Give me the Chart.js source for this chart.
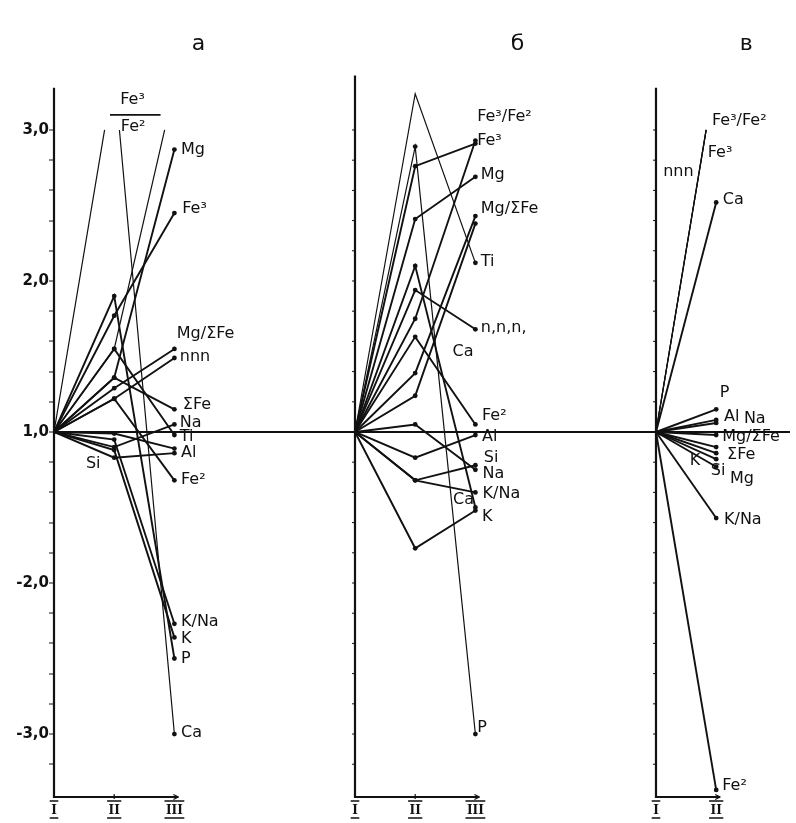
<!DOCTYPE html>
<html><head><meta charset="utf-8">
<script src="https://cdn.jsdelivr.net/npm/chart.js@4.4.1/dist/chart.umd.min.js"></script>
<style>html,body{margin:0;padding:0;background:#fff;}canvas{display:block;}</style>
</head><body>
<canvas id="c" width="796" height="823"></canvas>
<script>
// ---------------- data ----------------
const panelTitles = ['а', 'б', 'в'];
const stageLabels = ['I', 'II', 'III'];
const yTickValues = [3.0, 2.0, 1.0, -2.0, -3.0];
const yTickLabels = ['3,0', '2,0', '1,0', '-2,0', '-3,0'];

// panel а : stage I = 1.0 for every series
const seriesA = ['Ca', 'Fe³/Fe²', 'Mg', 'Fe³', 'Mg/ΣFe', 'nnn', 'ΣFe', 'Ti', 'P', 'Fe²', 'Al', 'Si', 'Na', 'K/Na', 'K'];
const a_II    = [3.38, 1.55, 1.36, 1.77, 1.29, 1.22, 1.36, 1.55, 1.90, 1.22, -1.01, -1.17, -1.10, -1.05, -1.12];
const a_III   = [-3.0, 3.28, 2.87, 2.45, 1.55, 1.49, 1.15, -1.02, -2.50, -1.32, -1.11, -1.14, 1.05, -2.27, -2.36];

// panel б
const seriesB = ['Ti', 'P', 'Fe³', 'Fe³/Fe²', 'Mg', 'Ca', 'n,n,n,', 'Fe²', 'Mg/ΣFe', 'ΣFe', 'Na', 'Al', 'Si', 'K/Na', 'K'];
const b_II    = [3.24, 2.89, 2.76, 1.75, 2.41, 2.10, 1.94, 1.63, 1.39, 1.24, 1.05, -1.17, -1.32, -1.32, -1.77];
const b_III   = [2.12, -3.0, 2.91, 2.93, 2.69, -1.50, 1.68, 1.05, 2.43, 2.38, -1.25, -1.02, -1.22, -1.40, -1.52];

// panel в (stages I and II only)
const seriesC = ['Fe³/Fe²', 'Fe³', 'nnn', 'Ca', 'P', 'Al', 'Na', 'Mg/ΣFe', 'ΣFe', 'K', 'Si', 'Mg', 'K/Na', 'Fe²'];
const c_II    = [3.40, 3.40, 3.40, 2.52, 1.15, 1.08, 1.06, -1.02, -1.10, -1.14, -1.18, -1.23, -1.57, -3.37];

// ---------------- layout / styling ----------------
const U = v => (v >= 1 ? v - 1 : v + 1);           // value -> axis position (1.0 in the middle)
const FONT = '"DejaVu Sans", sans-serif';
const INK = '#111';
const DOT_LIMIT = 3.2;                              // values above this are drawn without a dot

const PANELS = [
  { names: seriesA, vals: [a_II, a_III], xs: [1, 2, 3], cap: 3.0, axisTop: 3.28, thin: ['Ca', 'Fe³/Fe²'] },
  { names: seriesB, vals: [b_II, b_III], xs: [6, 7, 8], cap: 3.36, axisTop: 3.36, thin: ['Ti', 'P'] },
  { names: seriesC, vals: [c_II], xs: [11, 12], cap: 3.0, axisTop: 3.28, thin: ['Fe³/Fe²', 'Fe³', 'nnn'] }
];

// text placements (data units: stage position, value)
const textMarks = [
  // а
  ['Mg', 3.11, 2.87], ['Fe³', 3.13, 2.48], ['Mg/ΣFe', 3.04, 1.65], ['nnn', 3.09, 1.50], ['ΣFe', 3.14, 1.18],
  ['Na', 3.09, 1.06], ['Ti', 3.09, -1.03], ['Al', 3.11, -1.14], ['Fe²', 3.11, -1.32], ['K/Na', 3.11, -2.26],
  ['K', 3.11, -2.37], ['P', 3.11, -2.50], ['Ca', 3.11, -2.99], ['Si', 1.53, -1.21],
  ['Fe³', 2.10, 3.20], ['Fe²', 2.11, 3.02],
  // б
  ['Fe³/Fe²', 8.03, 3.09], ['Fe³', 8.03, 2.93], ['Mg', 8.09, 2.70], ['Mg/ΣFe', 8.09, 2.48], ['Ti', 8.09, 2.13],
  ['n,n,n,', 8.09, 1.69], ['Ca', 7.62, 1.53], ['Fe²', 8.11, 1.11], ['Al', 8.11, -1.03], ['Si', 8.14, -1.17],
  ['Na', 8.12, -1.28], ['Ca', 7.63, -1.45], ['K/Na', 8.12, -1.41], ['K', 8.11, -1.56], ['P', 8.03, -2.96],
  // в
  ['Fe³/Fe²', 11.93, 3.06], ['Fe³', 11.86, 2.85], ['nnn', 11.12, 2.72], ['Ca', 12.11, 2.54], ['P', 12.06, 1.26],
  ['Al', 12.13, 1.10], ['Na', 12.46, 1.09], ['Mg/ΣFe', 12.10, -1.03], ['ΣFe', 12.18, -1.15], ['K', 11.56, -1.19],
  ['Si', 11.91, -1.26], ['Mg', 12.23, -1.31], ['K/Na', 12.13, -1.58], ['Fe²', 12.10, -3.34]
];

// ---------------- build datasets ----------------
function clipPolyline(pts, cap) {
  const out = [];
  let lastEnd = null;
  for (let i = 0; i < pts.length - 1; i++) {
    const a = pts[i], b = pts[i + 1];
    if (a.y > cap && b.y > cap) continue;
    let s = a, e = b;
    if (a.y > cap) { const t = (a.y - cap) / (a.y - b.y); s = { x: a.x + t * (b.x - a.x), y: cap, r: 0 }; }
    if (b.y > cap) { const t = (cap - a.y) / (b.y - a.y); e = { x: a.x + t * (b.x - a.x), y: cap, r: 0 }; }
    if (lastEnd !== s) {
      if (out.length) out.push({ x: (lastEnd.x + s.x) / 2, y: null, r: 0 });
      out.push(s);
    }
    out.push(e);
    lastEnd = e;
  }
  return out;
}

const datasets = [];
PANELS.forEach(p => {
  p.names.forEach((name, i) => {
    const pts = [{ x: p.xs[0], y: U(1.0), r: 0 }];
    p.vals.forEach((arr, k) => pts.push({ x: p.xs[k + 1], y: U(arr[i]), r: arr[i] > DOT_LIMIT ? 0 : 2.4 }));
    const out = clipPolyline(pts, U(p.cap));
    datasets.push({
      label: name,
      data: out.map(o => ({ x: o.x, y: o.y })),
      pointRadius: out.map(o => o.r),
      pointBackgroundColor: INK,
      pointBorderWidth: 0,
      borderColor: INK,
      borderWidth: p.thin.includes(name) ? 1.2 : 1.9,
      fill: false,
      tension: 0,
      spanGaps: false
    });
  });
});

const xTickPositions = [];
const xTickText = {};
PANELS.forEach(p => p.xs.forEach((x, k) => { xTickPositions.push(x); xTickText[x] = stageLabels[k]; }));

const minorTicks = [];
for (let k = -11; k <= 10; k++) minorTicks.push(k * 0.2);
const majorU = yTickValues.map(U);

// ---------------- drawing plugin (axes, lettering) ----------------
const decor = {
  id: 'decor',
  afterDatasetsDraw(chart) {
    const { ctx, chartArea } = chart;
    const xs = chart.scales.x, ys = chart.scales.y;
    ctx.save();
    ctx.strokeStyle = INK; ctx.fillStyle = INK;
    // panel axes
    PANELS.forEach((p, pi) => {
      const x0 = xs.getPixelForValue(p.xs[0]);
      const xEnd = xs.getPixelForValue(p.xs[p.xs.length - 1]);
      const yTop = ys.getPixelForValue(U(p.axisTop));
      const yBot = chartArea.bottom;
      ctx.lineWidth = 2.2;
      ctx.beginPath(); ctx.moveTo(x0, yTop); ctx.lineTo(x0, yBot); ctx.lineTo(xEnd + 4, yBot); ctx.stroke();
      ctx.lineWidth = 1.2;
      ctx.beginPath(); ctx.moveTo(xEnd + 4, yBot); ctx.lineTo(xEnd - 1, yBot - 2.5);
      ctx.moveTo(xEnd + 4, yBot); ctx.lineTo(xEnd - 1, yBot + 2.5); ctx.stroke();
      p.xs.slice(1, -1).forEach(x => {
        const px = xs.getPixelForValue(x);
        ctx.beginPath(); ctx.moveTo(px, yBot - 3); ctx.lineTo(px, yBot + 2); ctx.stroke();
      });
      if (pi > 0) {
        ctx.lineWidth = 1;
        minorTicks.forEach(u => {
          const py = ys.getPixelForValue(u);
          ctx.beginPath(); ctx.moveTo(x0 - 3, py); ctx.lineTo(x0, py); ctx.stroke();
        });
      }
    });
    // bars over and under stage labels
    ctx.font = 'bold 12px "DejaVu Serif", serif';
    ctx.lineWidth = 1.3;
    xTickPositions.forEach(x => {
      const px = xs.getPixelForValue(x);
      const w = ctx.measureText(xTickText[x]).width + 3;
      ctx.beginPath();
      ctx.moveTo(px - w / 2, chartArea.bottom + 4); ctx.lineTo(px + w / 2, chartArea.bottom + 4);
      ctx.moveTo(px - w / 2, chartArea.bottom + 21); ctx.lineTo(px + w / 2, chartArea.bottom + 21);
      ctx.stroke();
    });
    // series lettering
    ctx.font = '16px ' + FONT;
    ctx.textAlign = 'left'; ctx.textBaseline = 'middle';
    textMarks.forEach(([t, x, v]) => {
      ctx.fillText(t, xs.getPixelForValue(x), ys.getPixelForValue(U(v)));
    });
    // fraction bar of Fe³/Fe² in panel а
    ctx.lineWidth = 1.6;
    ctx.beginPath();
    ctx.moveTo(xs.getPixelForValue(1.93), ys.getPixelForValue(U(3.10)));
    ctx.lineTo(xs.getPixelForValue(2.77), ys.getPixelForValue(U(3.10)));
    ctx.stroke();
    // panel titles
    ctx.font = '22px ' + FONT;
    ctx.textAlign = 'center';
    const titleX = [3.4, 8.7, 12.5];
    panelTitles.forEach((t, i) => ctx.fillText(t, xs.getPixelForValue(titleX[i]), 44));
    ctx.restore();
  }
};

new Chart(document.getElementById('c'), {
  type: 'line',
  data: { datasets },
  options: {
    responsive: false,
    animation: false,
    devicePixelRatio: 1,
    events: [],
    layout: { padding: { left: 0, right: 6, top: 75, bottom: 0 } },
    plugins: { legend: { display: false }, tooltip: { enabled: false } },
    scales: {
      x: {
        type: 'linear', min: 1, max: 13.226,
        afterBuildTicks: s => { s.ticks = xTickPositions.map(v => ({ value: v })); },
        afterFit: s => { s.height = 26; },
        grid: { display: false, drawTicks: false },
        border: { display: false },
        ticks: {
          autoSkip: false, maxRotation: 0, padding: 7, color: INK,
          font: { family: '"DejaVu Serif", serif', size: 12, weight: 'bold' },
          callback: v => xTickText[v] || ''
        }
      },
      y: {
        type: 'linear', min: -2.417, max: 2.364,
        afterBuildTicks: s => { s.ticks = minorTicks.map(v => ({ value: v })); },
        afterFit: s => { s.width = 54; },
        border: { display: false },
        grid: {
          drawOnChartArea: true,
          tickLength: 5,
          tickColor: INK,
          tickWidth: 1,
          color: c => (c.tick && Math.abs(c.tick.value) < 1e-6 ? INK : 'rgba(0,0,0,0)'),
          lineWidth: c => (c.tick && Math.abs(c.tick.value) < 1e-6 ? 2 : 0)
        },
        ticks: {
          autoSkip: false, padding: 0, color: INK,
          font: { family: FONT, size: 15, weight: 'bold' },
          callback: v => {
            const k = majorU.findIndex(u => Math.abs(u - v) < 1e-6);
            return k >= 0 ? yTickLabels[k] : '';
          }
        }
      }
    }
  },
  plugins: [decor]
});
</script>
</body></html>
